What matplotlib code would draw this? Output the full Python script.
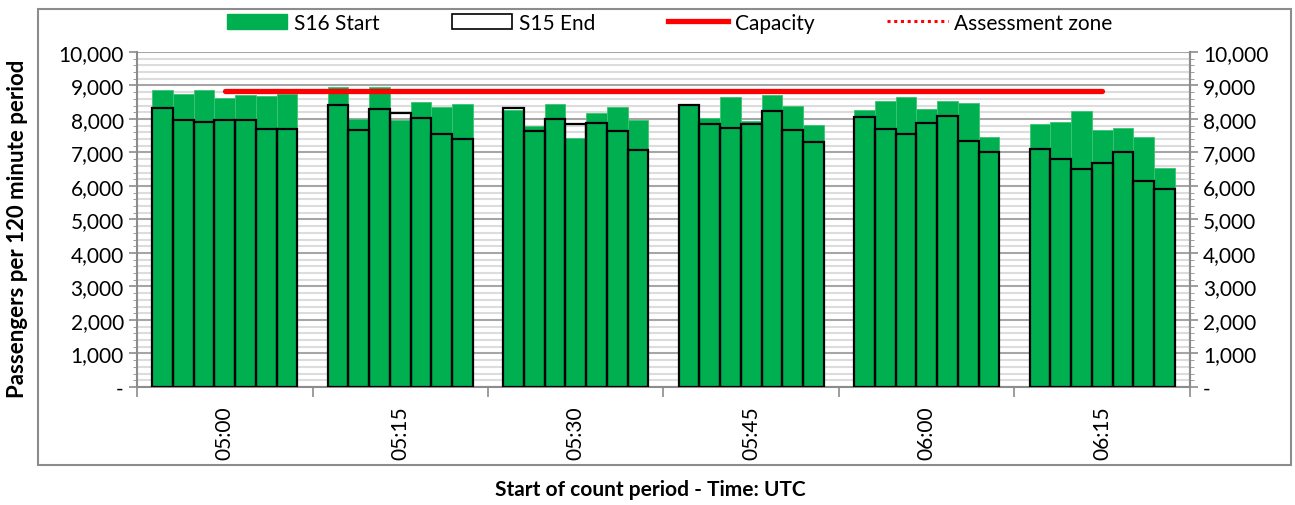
import matplotlib
matplotlib.use("Agg")
import matplotlib.pyplot as plt
import numpy as np
from matplotlib.ticker import MultipleLocator, FuncFormatter
from matplotlib.patches import Patch, Rectangle
from matplotlib.lines import Line2D

plt.rcParams['font.family'] = ['Lato', 'DejaVu Sans']

# categorias (inicio del periodo de conteo)
horas = ['05:00', '05:15', '05:30', '05:45', '06:00', '06:15']

# S16 Start, 7 barras por grupo
s16_start = [
    [8860, 8760, 8860, 8630, 8730, 8690, 8760],
    [8950, 8000, 8950, 7960, 8510, 8370, 8460],
    [8270, 7800, 8460, 7430, 8180, 8370, 7970],
    [8460, 8020, 8660, 7940, 8710, 8390, 7820],
    [8270, 8540, 8650, 8290, 8540, 8480, 7470],
    [7840, 7900, 8250, 7660, 7730, 7470, 6550],
]

# S15 End
s15_end = [
    [8320, 7970, 7900, 7980, 7960, 7690, 7690],
    [8410, 7670, 8290, 8190, 8020, 7540, 7400],
    [8340, 7650, 7990, 7840, 7880, 7640, 7070],
    [8410, 7850, 7720, 7860, 8240, 7660, 7300],
    [8050, 7690, 7560, 7880, 8100, 7340, 7000],
    [7090, 6800, 6520, 6690, 7020, 6150, 5920],
]

# capacidad
capacidad = [8850, 8850, 8850, 8850, 8850, 8850]

verde = '#00B050'
gris = '#8c8c8c'
fs = 15

fig = plt.figure(figsize=(12.95, 5.06), dpi=100)
ax = fig.add_axes([0.1058, 0.2332, 0.8131, 0.6621])

# marco del grafico
fig.patches.append(Rectangle((0.0293, 0.079), 0.9676, 0.901, transform=fig.transFigure,
                             fill=False, edgecolor=gris, lw=1.5))

w = 0.118
offs = (np.arange(7) - 3) * w
xg = np.arange(len(horas))

for g in range(len(horas)):
    ax.bar(xg[g] + offs, s16_start[g], width=w, color=verde, edgecolor='#3cc470', lw=0.6, zorder=2)
for g in range(len(horas)):
    ax.bar(xg[g] + offs, s15_end[g], width=w, facecolor='none', edgecolor='black', lw=1.6, zorder=3)

ax.plot(xg, capacidad, color='red', lw=3.8, solid_capstyle='round', zorder=4)

# ejes
ax.set_xlim(-0.5, len(horas) - 0.5)
ax.set_ylim(0, 10000)
ax.yaxis.set_major_locator(MultipleLocator(1000))
ax.yaxis.set_minor_locator(MultipleLocator(200))
fmt = FuncFormatter(lambda v, p: '-' if v == 0 else f'{v:,.0f}')
ax.yaxis.set_major_formatter(fmt)
ax.grid(which='major', axis='y', color='#a6a6a6', lw=1.5, zorder=0)
ax.grid(which='minor', axis='y', color='#dcdcdc', lw=1.5, zorder=0)
ax.set_axisbelow(True)

ax.set_xticks(np.arange(-0.5, len(horas), 1.0))
ax.set_xticklabels([])
ax.set_xticks(xg, minor=True)
ax.set_xticklabels(horas, minor=True, rotation=90, fontsize=fs)
ax.tick_params(axis='x', which='minor', length=0, pad=13)
ax.tick_params(axis='x', which='major', length=7, color=gris, width=1.2)
ax.tick_params(axis='y', which='major', length=6, color=gris, width=1.2, labelsize=fs)
ax.tick_params(axis='y', which='minor', length=3, color=gris)

ax.spines['top'].set_visible(False)
for s in ['left', 'right', 'bottom']:
    ax.spines[s].set_color(gris)
    ax.spines[s].set_linewidth(1.5)

ax2 = ax.twinx()
ax2.set_ylim(0, 10000)
ax2.yaxis.set_major_locator(MultipleLocator(1000))
ax2.yaxis.set_minor_locator(MultipleLocator(200))
ax2.yaxis.set_major_formatter(fmt)
ax2.tick_params(axis='y', which='major', length=6, color=gris, width=1.2, labelsize=fs)
ax2.tick_params(axis='y', which='minor', length=3, color=gris)
for s in ['top', 'left', 'bottom']:
    ax2.spines[s].set_visible(False)
ax2.spines['right'].set_color(gris)
ax2.spines['right'].set_linewidth(1.5)

# leyenda
handles = [Patch(facecolor=verde, edgecolor=verde),
           Patch(facecolor='white', edgecolor='black', lw=1.2),
           Line2D([], [], color='red', lw=3.8),
           Line2D([], [], color='red', lw=2.2, ls=(0, (1, 1.2)))]
fig.legend(handles, ['S16 Start', 'S15 End', 'Capacity', 'Assessment zone'],
           loc='center', bbox_to_anchor=(0.517, 0.953), ncol=4, frameon=False,
           fontsize=fs, handlelength=2.9, handletextpad=0.3, columnspacing=3.5)

fig.text(18 / 1295, 1 - 229 / 506, 'Passengers per 120 minute period', rotation=90,
         ha='center', va='center', fontsize=16, fontweight='bold')
fig.text(650 / 1295, 1 - 490 / 506, 'Start of count period - Time: UTC',
         ha='center', va='center', fontsize=15, fontweight='bold')

fig.savefig('out.png', dpi=100)
